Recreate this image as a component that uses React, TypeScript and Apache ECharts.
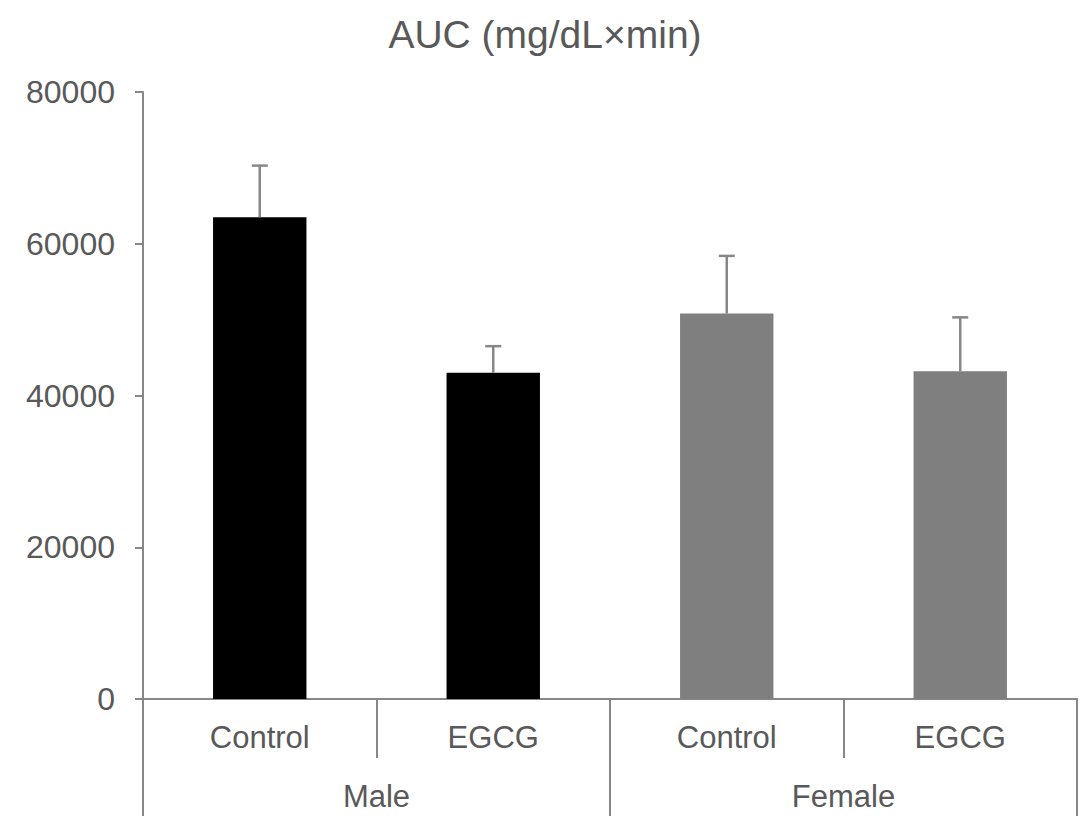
import React, { useEffect, useRef } from "react";
import * as echarts from "echarts";

const titleText = "AUC (mg/dL×min)";
const treatments = ["Control", "EGCG", "Control", "EGCG"];
const groups = ["Male", "Female"];
const means = [63500, 43000, 50800, 43200];
const errors = [6800, 3500, 7600, 7100];
const yTicks = [0, 20000, 40000, 60000, 80000];

const groupOfBar = [0, 0, 1, 1];
const groupColors = ["#000000", "#7f7f7f"];
const axisColor = "#878787";
const textColor = "#595959";
const font = "'Liberation Sans', Arial, sans-serif";

export default function App() {
  const ref = useRef<HTMLDivElement>(null);
  useEffect(() => {
    if (!ref.current) return;
    const chart = echarts.init(ref.current, undefined, { renderer: "svg" });
    const option: any = {
      animation: false,
      backgroundColor: "#ffffff",
      title: {
        text: titleText,
        left: 540,
        textAlign: "center",
        top: 10,
        textStyle: { fontFamily: font, fontSize: 39, fontWeight: "normal", color: textColor },
      },
      grid: { left: 143, right: 12, top: 92, bottom: 117 },
      xAxis: [
        {
          type: "category",
          data: treatments,
          position: "bottom",
          axisLine: { show: true, lineStyle: { color: axisColor, width: 2 } },
          axisTick: { show: true, length: 59, lineStyle: { color: axisColor, width: 2 } },
          axisLabel: { margin: 23, fontFamily: font, fontSize: 31, color: textColor },
        },
        {
          type: "category",
          data: groups,
          position: "bottom",
          axisLine: { show: false },
          axisTick: { show: true, length: 117, lineStyle: { color: axisColor, width: 2 } },
          axisLabel: { margin: 82, fontFamily: font, fontSize: 31, color: textColor },
        },
      ],
      yAxis: {
        type: "value",
        min: yTicks[0],
        max: yTicks[yTicks.length - 1],
        interval: yTicks[1] - yTicks[0],
        axisLine: { show: true, lineStyle: { color: axisColor, width: 2 } },
        axisTick: { show: true, length: 8, lineStyle: { color: axisColor, width: 2 } },
        splitLine: { show: false },
        axisLabel: {
          margin: 28,
          fontFamily: font,
          fontSize: 32,
          color: textColor,
          formatter: (v: number) => String(v),
        },
      },
      series: [
        {
          type: "bar",
          xAxisIndex: 0,
          barWidth: "40%",
          data: means.map((v, i) => ({ value: v, itemStyle: { color: groupColors[groupOfBar[i]] } })),
          z: 2,
        },
        {
          type: "custom",
          xAxisIndex: 0,
          z: 3,
          data: means.map((m, i) => [i, m, errors[i]]),
          renderItem: (params: any, api: any) => {
            const x = api.value(0);
            const m = api.value(1);
            const e = api.value(2);
            const top = api.coord([x, m + e]);
            const base = api.coord([x, m]);
            const hw = 8;
            const st = { stroke: axisColor, lineWidth: 2.5 };
            return {
              type: "group",
              children: [
                { type: "line", shape: { x1: top[0], y1: top[1], x2: base[0], y2: base[1] }, style: st },
                { type: "line", shape: { x1: top[0] - hw, y1: top[1], x2: top[0] + hw, y2: top[1] }, style: st },
              ],
            };
          },
        },
      ],
    };
    chart.setOption(option);
    return () => chart.dispose();
  }, []);
  return (
    <div
      ref={ref}
      style={{ position: "fixed", left: 0, top: 0, width: 1089, height: 816, background: "#fff" }}
    />
  );
}
